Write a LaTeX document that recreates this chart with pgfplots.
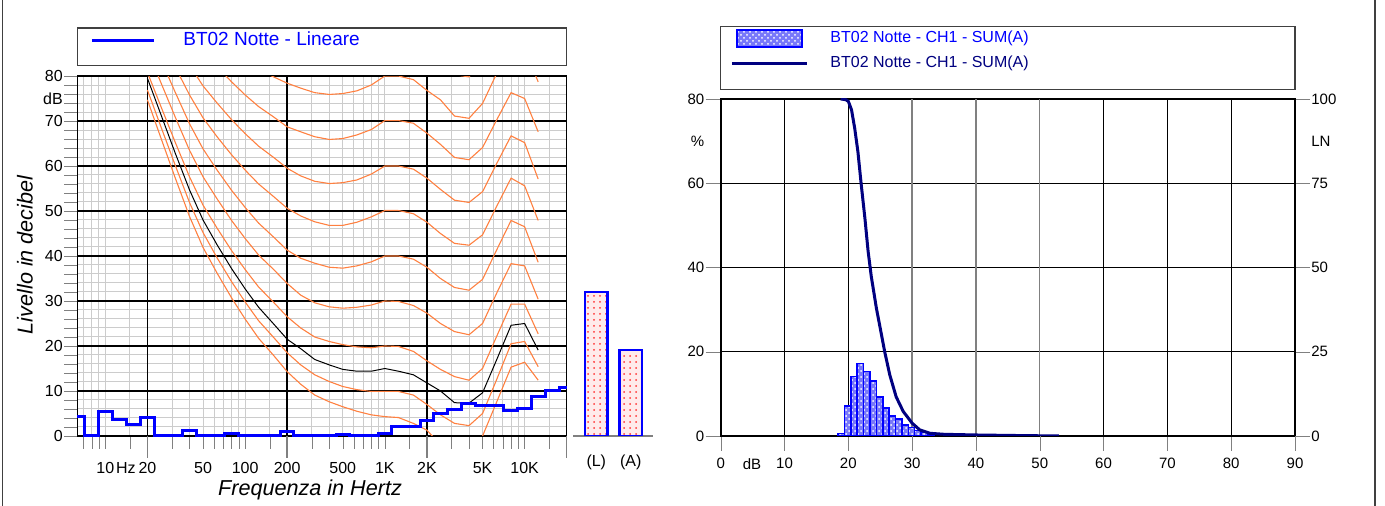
\documentclass[border=0pt]{standalone}
\usepackage{fontspec}
\setmainfont{Liberation Sans}
\usepackage{pgfplots}
\pgfplotsset{compat=1.18}
\usepackage{pgfplotstable}
\usetikzlibrary{patterns}

\definecolor{isolinea}{RGB}{255,128,64}
\definecolor{navyblu}{RGB}{0,0,128}
\definecolor{istofill}{RGB}{120,120,250}
\definecolor{cornice}{RGB}{64,64,64}

\pgfplotsset{
  legcorta/.style={legend image code/.code={\draw[##1] (0pt,0pt) -- (31pt,0pt);}},
  leglinea/.style={legend image code/.code={\draw[##1] (-2.5pt,0pt) -- (35pt,0pt);}},
  legbarra/.style={legend image code/.code={\path[draw=none, fill=none] (-2.5pt,0pt) -- (35pt,0pt);
    \draw[draw=blue, line width=0.8pt, fill=istofill, postaction={pattern=crosshatch dots, pattern color=white}]
    (0pt,-4.25pt) rectangle (32.5pt,4.25pt);}},
}

% isofone (dB) per banda di terzi d'ottava
\pgfplotstableread{
f      c0    c1    blk   c2    c3    c4    c5    c6    c7     c8     c9
20     74.7  76.9  79.5  80.8  85.7  90.5  94.6  99.5  105.6  102.4  112
25     66.2  68.7  71.4  73.2  78.5  83.6  88.4  93.9  100.4  99.0   109
31.5   57.5  60.3  63.0  65.4  71.0  76.5  82.1  88.1  95.1   95.6   105
40     48.8  51.9  54.7  57.6  63.5  69.4  75.8  82.4  89.8   92.1   102
50     41.9  45.2  48.0  51.3  57.6  63.8  70.7  77.8  85.6   89.4   99
63     36.2  39.6  42.5  46.2  52.7  59.1  66.5  74.0  82.1   87.1   97
80     30.7  34.3  37.2  41.2  47.9  54.6  62.5  70.3  78.7   84.9   95
100    26.0  29.8  32.7  37.0  43.9  50.8  59.1  67.2  75.8   83.0   93
125    21.7  25.6  28.6  33.1  40.2  47.3  56.0  64.4  73.2   81.3   91
160    17.9  21.9  24.9  29.7  37.0  44.2  53.2  61.9  70.9   79.8   89.8
200    14.3  18.5  21.5  26.5  33.9  41.3  50.6  59.5  68.7   78.4   88.4
250    11.5  15.8  19.4  24.0  31.3  39.5  48.9  57.8  67.6   77.3   87.3
315    9.1   13.6  17.0  22.0  29.6  38.4  47.6  56.6  66.5   76.3   86.3
400    7.6   12.1  15.8  21.0  28.7  37.5  46.8  56.1  65.9   75.9   85.9
500    6.5   11.0  14.8  20.3  28.4  37.3  46.8  56.3  66.1   76.1   86.1
630    5.5   10.3  14.4  19.8  28.6  37.8  47.5  56.9  66.9   76.7   86.7
800    4.7   9.9   14.4  19.6  29.1  38.7  48.7  58.2  68.1   78.0   88.0
1000   4.3   9.9   15.0  20.0  30.0  40.0  50.1  60.0  70.1   80.0   90.0
1250   4.1   9.9   14.4  19.9  29.9  40.0  50.1  60.0  70.1   80.0   90.0
1600   2.8   9.1   13.6  18.8  29.0  39.3  49.4  59.3  69.5   79.2   89.2
2000   1.3   7.0   11.8  16.7  27.3  37.5  47.5  57.3  67.3   76.8   86.8
2500   -2.0  4.7   10.0  14.8  25.0  35.0  45.0  54.8  64.8   74.7   84.6
3150   -5.0  2.8   7.4   13.2  23.2  33.0  42.8  52.4  61.9   71.1   80.3
4000   -5.5  2.3   7.3   12.4  22.5  32.4  42.4  51.9  61.4   70.6   79.8
5000   0.0   5.0   9.6   15.0  25.0  34.8  44.7  54.3  64.1   73.9   83.5
6300   7.5   12.5  16.9  22.1  31.7  41.3  51.0  60.5  70.2   80.5   90.0
8000   15.3  20.5  24.6  29.3  38.3  47.9  57.3  66.7  76.3   87.0   97.0
10000  16.4  21.0  25.0  29.3  37.8  46.5  55.6  65.2  75.0   86.0   96.0
12500  12.4  15.4  19.1  22.7  30.4  38.6  47.9  57.1  67.6   78.7   88.7
}\isofone

% spettro lineare BT02 notte
\pgfplotstableread{
f      L
6.3    4.3
8      0
10     5.5
12.5   3.7
16     2.5
20     4.1
25     0
31.5   0
40     1.2
50     0
63     0
80     0.5
100    0
125    0
160    0
200    1.0
250    0
315    0
400    0
500    0.3
630    0
800    0
1000   0.6
1250   2.1
1600   2.1
2000   3.4
2500   4.9
3150   5.8
4000   7.2
5000   6.7
6300   6.8
8000   5.7
10000  6.2
12500  8.7
16000  10.1
20000  10.8
}\spettro

\pgfplotstableread{
dB    p
18.9  0.6
19.9  7.1
20.9  14.1
21.9  17.2
22.9  15.3
23.9  13.1
24.9  9.3
25.9  6.6
26.9  4.8
27.9  4.0
28.9  2.6
29.9  2.0
30.9  1.3
31.9  0.8
32.9  0.4
}\istogramma

\pgfplotstableread{
dB    LN
18.8  100
19.6  99.8
20.0  99.3
20.5  96.8
21.0  91.3
21.5  84.4
22.0  75.0
22.6  64.6
23.1  54.8
23.6  47.3
24.4  37.9
25.2  30.0
25.7  25.0
26.5  18.1
27.5  11.6
28.6  7.3
30.0  3.8
31.2  1.8
32.8  0.8
35.0  0.5
40.0  0.3
46.0  0.15
53.0  0
}\cumulata

\begin{document}
\begin{tikzpicture}[font=\fontsize{8}{9.6}\selectfont]
\path[use as bounding box] (0pt,0pt) rectangle (692.5pt,253pt);
\draw[cornice, line width=0.6pt] (1.35pt,0pt) -- (1.35pt,253pt);
\draw[cornice, line width=0.6pt] (687.5pt,0pt) -- (687.5pt,253pt);

% --- spettro in terzi d'ottava con isofone
\begin{axis}[
  at={(38.65pt,35pt)}, anchor=south west,
  width=244.7pt, height=180pt, scale only axis,
  xmode=log, xmin=6.3, xmax=20000, ymin=0, ymax=80,
  axis line style={line width=0.8pt},
  tick align=outside, xtick pos=left, ytick pos=left,
  major tick length=6.5pt, minor tick length=6.5pt,
  xtick={10,15,20,50,100,200,500,1000,2000,5000,10000},
  xticklabels={10,\kern-4pt Hz,20,50,100,200,500,1K,2K,5K,10K},
  minor xtick={7,8,9,10,15,30,40,50,60,70,80,90,100,150,300,400,500,600,700,800,900,1000,1500,3000,4000,5000,6000,7000,8000,9000,10000,15000},
  extra x ticks={20,200,2000,20000}, extra x tick labels={},
  extra x tick style={grid=major, major tick length=11pt, tick style={gray, line width=0.8pt}},
  ytick={0,10,...,80}, minor y tick num=4,
  extra y ticks={75}, extra y tick labels={dB},
  extra y tick style={grid=none, tick style={draw=none}},
  xminorgrids=true, ymajorgrids=true, yminorgrids=true,
  major grid style={black, line width=0.7pt},
  minor grid style={gray!40, line width=0.5pt},
  tick label style={font=\fontsize{8}{9.6}\selectfont},
  /pgf/number format/assume math mode=true,
  xticklabel style={yshift=-3pt},
  yticklabel style={inner xsep=0.6pt},
  xlabel={\itshape Frequenza in Hertz},
  ylabel={\itshape Livello in decibel},
  label style={font=\fontsize{10.8}{13}\selectfont},
  xlabel style={at={(axis description cs:0.4755,-0.15)}, anchor=center},
  ylabel style={at={(axis description cs:-0.107,0.503)}, anchor=center},
]
\addplot[isolinea, line width=0.55pt, forget plot] table[x=f, y=c0] {\isofone};
\addplot[isolinea, line width=0.55pt, forget plot] table[x=f, y=c1] {\isofone};
\addplot[isolinea, line width=0.55pt, forget plot] table[x=f, y=c2] {\isofone};
\addplot[isolinea, line width=0.55pt, forget plot] table[x=f, y=c3] {\isofone};
\addplot[isolinea, line width=0.55pt, forget plot] table[x=f, y=c4] {\isofone};
\addplot[isolinea, line width=0.55pt, forget plot] table[x=f, y=c5] {\isofone};
\addplot[isolinea, line width=0.55pt, forget plot] table[x=f, y=c6] {\isofone};
\addplot[isolinea, line width=0.55pt, forget plot] table[x=f, y=c7] {\isofone};
\addplot[isolinea, line width=0.55pt, forget plot] table[x=f, y=c8] {\isofone};
\addplot[isolinea, line width=0.55pt, forget plot] table[x=f, y=c9] {\isofone};
\addplot[black, line width=0.5pt, forget plot] table[x=f, y=blk] {\isofone};
\end{axis}

% --- spettro (sopra gli assi, senza ritaglio)
\begin{axis}[
  at={(38.65pt,35pt)}, anchor=south west,
  width=244.7pt, height=180pt, scale only axis,
  xmode=log, xmin=6.3, xmax=20000, ymin=0, ymax=80,
  hide axis, clip=false,
  legend style={draw=none, fill=none, at={(axis description cs:0.0259,1.0986)}, anchor=west,
    inner sep=0pt, nodes={inner sep=0pt}, column sep=14pt, font=\fontsize{9.5}{11.4}\selectfont},
  legcorta,
]
\addplot[blue, line width=1.5pt, const plot mark mid] table[x=f, y=L] {\spettro};
\addlegendentry{\textcolor{blue}{BT02 Notte - Lineare}}
\end{axis}

% --- livelli globali (L) e (A)
\begin{axis}[
  at={(286.5pt,35pt)}, anchor=south west,
  width=40pt, height=180pt, scale only axis,
  xmin=0.323, xmax=2.648, ymin=0, ymax=80,
  hide y axis, axis x line*=bottom, x axis line style={gray, line width=0.8pt},
  xtick={1,2}, xticklabels={(L),(A)}, major tick length=0pt,
  tick label style={font=\fontsize{8}{9.6}\selectfont},
  xticklabel style={yshift=-6pt},
]
\addplot[ybar, bar width=0.66, bar shift=0pt, draw=blue, line width=1.2pt, fill=red!8,
  postaction={pattern=dots, pattern color=red!80}] coordinates {(1,32.0) (2,19.1)};
\end{axis}

% --- distribuzione statistica
\begin{axis}[
  at={(360.35pt,35pt)}, anchor=south west,
  width=287.15pt, height=168.5pt, scale only axis,
  xmin=0, xmax=90, ymin=0, ymax=80,
  clip mode=individual,
  axis line style={line width=0.8pt},
  tick align=outside, major tick length=7.5pt, xtick pos=left, ytick pos=left,
  xtick={0,10,20,60,70,80,90}, ytick={0,20,...,80},
  extra x ticks={30,40,50},
  extra x tick style={major grid style={gray, line width=0.7pt}, tick style={gray}},
  extra y ticks={70}, extra y tick labels={\%},
  extra y tick style={grid=none, tick style={draw=none}},
  grid=major, major grid style={black, line width=0.5pt},
  tick label style={font=\fontsize{7.5}{9}\selectfont},
  /pgf/number format/assume math mode=true,
  yticklabel style={inner xsep=0.5pt},
]
\addplot[ybar, bar width=1, bar shift=0pt, draw=blue, line width=0.8pt, fill=istofill,
  postaction={pattern=crosshatch dots, pattern color=white}] table[x=dB, y=p] {\istogramma};
\node[anchor=north, font=\fontsize{7.5}{9}\selectfont] at (axis cs:4.9,0) [yshift=-8pt] {dB};
\end{axis}

\begin{axis}[
  at={(360.35pt,35pt)}, anchor=south west,
  width=287.15pt, height=168.5pt, scale only axis,
  xmin=0, xmax=90, ymin=0, ymax=100,
  hide x axis, axis y line*=right, y axis line style={line width=0.8pt},
  tick align=outside, major tick length=7.5pt,
  ytick={0,25,...,100},
  extra y ticks={87.5}, extra y tick labels={LN},
  extra y tick style={tick style={draw=none}},
  tick label style={font=\fontsize{7.5}{9}\selectfont},
  /pgf/number format/assume math mode=true,
  yticklabel style={inner xsep=0.5pt},
  legend style={draw=none, fill=none, at={(axis description cs:0.0162,1.2077)}, anchor=north west,
    inner sep=0pt, nodes={inner sep=0pt}, column sep=11pt, row sep=4pt,
    font=\fontsize{8}{9.6}\selectfont},
]
\addlegendimage{legbarra}
\addlegendentry{\textcolor{blue}{BT02 Notte - CH1 - SUM(A)}}
\addplot[navyblu, line width=1.5pt, leglinea] table[x=dB, y=LN] {\cumulata};
\addlegendentry{\textcolor{navyblu}{BT02 Notte - CH1 - SUM(A)}}
\end{axis}

\draw[cornice, line width=0.6pt] (38.85pt,220.15pt) rectangle (283.35pt,239pt);
\draw[cornice, line width=0.6pt] (360.35pt,208.35pt) rectangle (647.5pt,239.65pt);
\end{tikzpicture}
\end{document}
